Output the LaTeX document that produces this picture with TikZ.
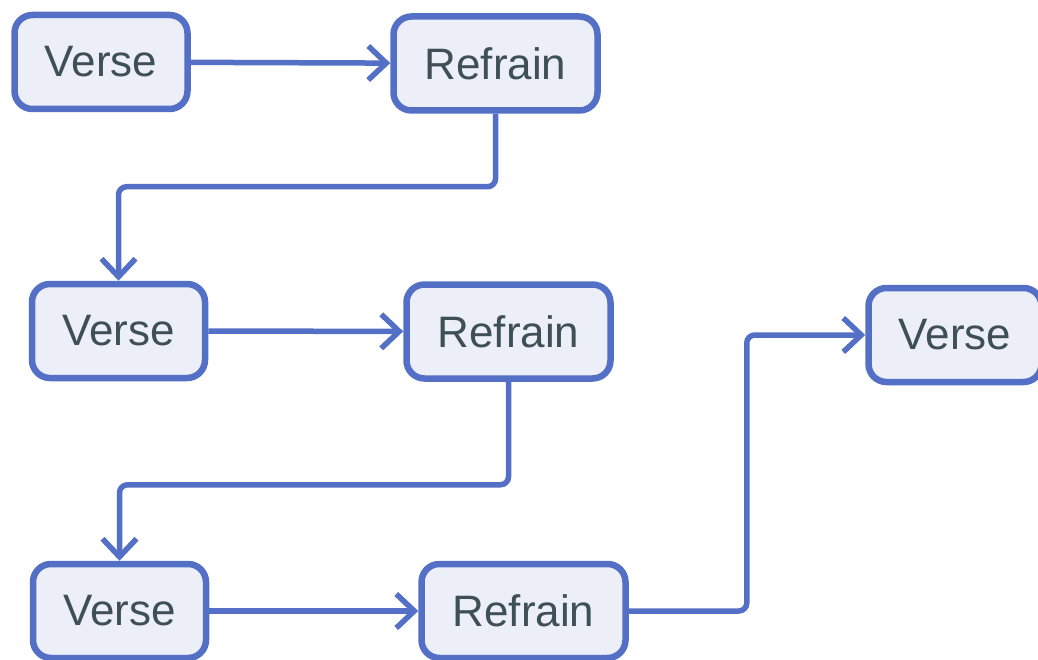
\documentclass[tikz,border=0pt]{standalone}
\usepackage{fontspec}
\setmainfont{Liberation Sans}
\usetikzlibrary{arrows.meta}
\definecolor{edgeblue}{HTML}{5470C6}
\definecolor{boxfill}{HTML}{ECEEF8}
\definecolor{textgray}{HTML}{3E4F55}
\begin{document}
\begin{tikzpicture}[
        x=1pt, y=-1pt,
        part/.style={draw=edgeblue, line width=6.5pt, rounded corners=18pt, fill=boxfill, text=textgray, minimum height=94pt, align=center, font=\fontsize{44}{52}\selectfont},
        verse/.style={part, minimum width=173pt},
        refrain/.style={part, minimum width=204pt},
        flow/.style={draw=edgeblue, line width=5.5pt, rounded corners=8pt, -{Straight Barb[length=18pt, width=34pt, line width=5.5pt]}}
    ]
    \useasboundingbox (0,0) rectangle (1038,660);
    \node (v1) [verse] at (101,62) {Verse};
    \node (r1) [refrain] at (495.5,63.5) {Refrain};
    \node (v2) [verse] at (118.5,331) {Verse};
    \node (r2) [refrain] at (508.5,331.5) {Refrain};
    \node (v3) [verse] at (955,335) {Verse};
    \node (v4) [verse] at (119.5,611) {Verse};
    \node (r3) [refrain] at (523.5,611) {Refrain};

    \draw [flow] (v1) -- (r1);
    \draw [flow] (r1.south) -- ([yshift=-73pt]r1.south) -| (v2.north);
    \draw [flow] (v2) -- (r2);
    \draw [flow] (r2.south) -- ([yshift=-103pt]r2.south) -| (v4.north);
    \draw [flow] (v4) -- (r3);
    \draw [flow] (r3.east) -- ([xshift=118pt]r3.east) |- (v3.west);
\end{tikzpicture}
\end{document}
